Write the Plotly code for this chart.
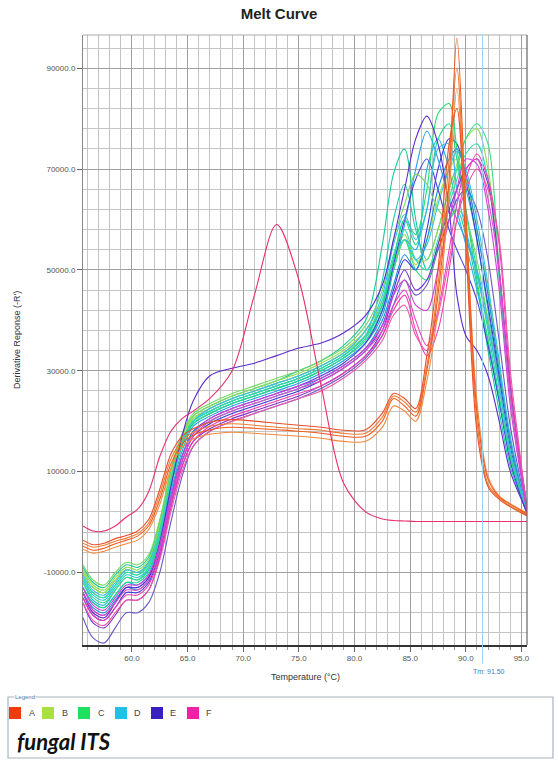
import plotly.graph_objects as go

# Temperatures (°C) at which curve values were read
T = [55.6, 56.5, 57.5, 58.5, 59.5, 60.5, 61.5, 62.5, 63.5, 64.5, 65.5, 67, 69, 71, 73, 75, 77, 79, 81,
     82.5, 83.5, 84.5, 85.5, 86.5, 87.5, 88.5, 89.2, 90, 91, 92, 93, 94, 95.5]

# Derivative response values in thousands
A1 = [-4.8,-5.6,-5.2,-4.3,-3.6,-2.8,-0.8,4.5,11.5,15.5,17.2, 18.3,18.8,18.6,18.3,18.0,17.6,17.0,17.0, 20.0,24.5,23.0,21.0,30.0,45.0,68.0,96.0,62.0,22.0,8.5,5.0,3.5,1.6]
A2 = [-4.2,-5.0,-4.6,-3.8,-3.2,-2.3,-0.2,5.5,12.5,16.2,17.8, 19.0,19.5,19.2,18.8,18.5,18.2,17.6,17.6, 20.8,25.0,23.8,21.8,31.0,47.0,72.0,90.0,58.0,20.0,7.5,4.8,3.2,1.4]
A3 = [-5.4,-6.2,-5.8,-5.0,-4.3,-3.6,-1.5,3.5,10.5,14.8,16.5, 17.4,17.8,17.6,17.3,17.0,16.6,16.0,16.0, 18.8,23.0,22.0,20.0,28.0,42.0,65.0,86.0,60.0,24.0,9.0,5.2,3.6,1.8]
A4 = [-3.6,-4.5,-4.2,-3.3,-2.7,-1.8,0.5,6.5,13.5,17.0,18.5, 19.8,20.3,20.0,19.6,19.2,18.8,18.2,18.3, 21.6,25.5,24.5,22.5,33.0,50.0,75.0,82.0,55.0,18.0,7.0,4.5,3.0,1.2]
P1 = [-0.8,-1.8,-1.8,-0.8,1.0,2.5,6.0,13.0,18.0,20.5,22.0, 24.5,30.0,45.0,59.0,48.0,27.0,7.8,2.0, 0.6,0.3,0.2,0.1,0.1,0.1,0.1,0.1,0.1,0.1,0.1,0.1,0.1,0.1]

B1 = [-9.5,-12.5,-13.5,-11,-9,-9.5,-7.5,-0.5,9.5,17,21, 23,25,26.5,28,29.5,31.5,34,38, 44,52,57,52,52,58,66,71,76,78,70,50,26,3]
B2 = [-10,-13,-14,-11.5,-9.5,-10,-8,-1,9,16.5,20.5, 22.5,24.5,26,27.5,29,31,33.5,37, 43,51,56,51,56,64,70,72,68,58,46,31,16,2]
B3 = [-8.5,-11.5,-12.5,-10,-8,-8.5,-6.5,0.5,10.5,17.5,21.5, 23.5,25.5,27,28.5,30,32,34.5,39, 46,56,63,69,67,62,60,62,60,52,40,27,14,2]

C1 = [-9,-12,-13,-10.5,-8.5,-9,-7,0,10,17,21, 23,25,26.5,28,30,32,35,40, 55,69,74,60,50,54,60,62,57,47,34,22,11,2]
C2 = [-10,-13,-14,-11.5,-9.5,-10,-8,-1,9,16,20, 22,24,25.5,27,28.5,30.5,33,37, 48,60,67,58,52,58,66,70,66,56,42,28,14,2.5]
C3 = [-11,-14,-15,-12.5,-10,-10.5,-8,-1,9,16,20.5, 22.5,24.5,26,27.5,29,31,33.5,37, 43,52,60,57,66,81,83,74,62,48,36,24,13,2]
C4 = [-12,-15,-16,-13.5,-11,-11.5,-9,-2,8,15.5,19.5, 21.5,23.5,25,26.5,28,30,32.5,36, 42,50,56,50,48,55,64,70,76,79,75,50,26,3]
C5 = [-13,-16,-17,-14.5,-12,-12,-10,-3,7,15,19.5, 21.5,23.5,25,26.5,28,30,32.5,36.5, 43,52,60,55,62,76,79,72,62,50,38,25,13,2]
C6 = [-11,-14,-15,-12.5,-10,-10.5,-8.5,-1.5,8.5,16,20, 22,24,25.5,27,28.5,30.5,33,37, 44,53,58,52,50,56,63,68,73,75,68,48,25,2.5]

D1 = [-12,-15.5,-16.5,-13.5,-11,-11.5,-9.5,-3,7,15,19.5, 21.5,23.5,25,26.5,28,30,32.5,36, 42,50,56,54,70,76,70,62,55,46,36,24,13,1.5]
D2 = [-13,-16,-17,-14.5,-12,-12.5,-10.5,-4,6,14,19, 21,23,24.5,26,27.5,29.5,32,35.5, 41,50,59,70,77.5,72,64,60,56,50,40,27,14,2]
D3 = [-11.5,-14.5,-15.5,-13,-10.5,-11,-9,-2.5,7.5,15.5,20, 22,24,25.5,27,28.5,30.5,33,37, 43,52,56,52,55,63,70,73.5,70,60,47,32,17,2]
D4 = [-14,-17,-18,-15.5,-13,-13.5,-11.5,-5,5,13,18, 20,22,23.5,25,26.5,28.5,31,34.5, 40,47,53,50,56,66,72,74,69,58,45,30,16,1.5]
D5 = [-10.5,-13.5,-14.5,-12,-9.5,-10,-8,-1.5,8.5,16,20, 22.5,24.5,26,27.5,29,31,33.5,38, 45,55,61,56,62,74,75,66,58,49,39,27,14,2]

E1 = [-14,-18,-19,-16,-13,-13,-11,-4,7,17,24, 29,30.5,31.5,33,34.5,35.5,37.5,41, 47,56,66,76,80.5,75,62,45,37,34,29,20,10,2]
E2 = [-15,-18.5,-19.5,-17,-14,-14,-12,-6,4,12,17, 19.5,21.5,23,24.5,26,28,30.5,34, 39,46,52,50,58,70,76,75,68,56,43,29,15,1.5]
E3 = [-16,-20,-21,-18.5,-15.5,-15.5,-13.5,-7,3,11,16, 18.5,20.5,22,23.5,25,27,29.5,33, 38,45,50,46,48,55,62,66,70,72,67,50,27,3]
E4 = [-19,-23,-24,-21,-18,-18,-16,-10,0,9,15, 18,20,21.5,23,24.5,26.5,29,32.5, 37,43,48,45,47,54,60,64,66,62,52,36,19,2]
E5 = [-14,-17.5,-18.5,-16,-13,-13,-11,-5,5,13,18, 20.5,22.5,24,25.5,27,29,31.5,35.5, 42,51,60,68,72,66,58,54,50,44,35,24,12,1.5]

F1 = [-15,-18.5,-19.5,-17,-14.5,-14.5,-12.5,-6.5,3,11,16, 19,21,22.5,24,25.5,27,29.5,33, 37,42,45,38,33,38,50,60,68,73,68,55,28,2]
F2 = [-14,-17.5,-18.5,-16,-13.5,-13.5,-11.5,-5.5,4,12,17, 20,22,23.5,25,26.5,28,30.5,34, 38,43,46,40,35,42,54,63,70,72,64,50,25,2]
F3 = [-16,-19.5,-20.5,-18,-15.5,-15.5,-13.5,-7.5,2,10,15, 18,20,21.5,23,24.5,26,28.5,32, 36,41,43,37,34,41,52,60,66,70,66,56,30,2.5]
F4 = [-13,-16.5,-17.5,-15,-12.5,-12.5,-10.5,-4.5,5,13,17.5, 20.5,22.5,24,25.5,27,28.5,31,34.5, 39,45,48,43,42,50,60,66,72,71,62,46,23,2]

TM = 91.5
X_TICKS = [60, 65, 70, 75, 80, 85, 90, 95]
Y_TICKS = [-10000, 10000, 30000, 50000, 70000, 90000]
LEGEND_KEYS = ["A", "B", "C", "D", "E", "F"]

# drawing order: mass first, then A group and the single early-melting curve on top
curves = [
    (C1, "#19c99a"), (C2, "#22c4b4"), (B1, "#8fdc50"), (D1, "#1fb5e8"), (E2, "#3b35d8"),
    (C3, "#26de6e"), (D2, "#22a0e6"), (B2, "#a6e04a"), (E4, "#6a58c8"), (D3, "#2cc4e0"),
    (C4, "#38e07e"), (E5, "#4a40e0"), (D4, "#1b8ed8"), (C5, "#1fd690"), (B3, "#74d862"),
    (D5, "#3ab8f0"), (C6, "#2ddca8"), (E3, "#7a30d0"), (E1, "#5a2bd0"),
    (F1, "#f03cb0"), (F2, "#e845c8"), (F3, "#f055a8"), (F4, "#d040d8"),
    (A3, "#f38a3c"), (A2, "#f07a30"), (A4, "#e8502a"), (A1, "#f05a1e"), (P1, "#e8306e"),
]
legend_colors = ["#f03a10", "#a8e040", "#20e060", "#20c0e8", "#3820c0", "#f020a8"]

fig = go.Figure()
for vals, col in curves:
    fig.add_trace(go.Scatter(
        x=T, y=[v * 1000 for v in vals], mode="lines",
        line=dict(color=col, width=1.1, shape="spline", smoothing=0.9),
        showlegend=False, hoverinfo="skip"))

# plot geometry (pixels) for paper-coordinate conversions
L, R, TOP, BOT = 83, 527, 35, 645
W, H = R - L, BOT - TOP
def px(x): return (x - L) / W
def py(y): return (BOT - y) / H

fig.update_layout(
    width=558, height=763,
    margin=dict(l=L, r=558 - R, t=TOP, b=763 - BOT),
    paper_bgcolor="white", plot_bgcolor="white",
    font=dict(family="Liberation Sans, Arial, sans-serif", size=8, color="#444"),
    title=dict(text="<b>Melt Curve</b>", x=0.5, xref="container", y=1 - 14 / 763,
               yref="container", xanchor="center", yanchor="middle",
               font=dict(size=15, color="#222", family="Liberation Sans, Arial, sans-serif")),
    xaxis=dict(range=[55.6, 95.5], tickvals=X_TICKS, ticktext=[f"{v:.1f}" for v in X_TICKS],
               showgrid=True, gridcolor="#a0a0a0", gridwidth=1,
               minor=dict(dtick=1, tick0=55, showgrid=True, gridcolor="#c4c4c4", gridwidth=1,
                          ticks="outside", ticklen=3, tickcolor="#999"),
               ticks="outside", ticklen=5, tickcolor="#666",
               showline=True, linecolor="#333", linewidth=1.5, mirror=False,
               zeroline=False, tickfont=dict(size=8, color="#555")),
    yaxis=dict(range=[-24400, 96600], tickvals=Y_TICKS, ticktext=[f"{v:.1f}" for v in Y_TICKS],
               showgrid=True, gridcolor="#a0a0a0", gridwidth=1,
               minor=dict(dtick=4000, tick0=-10000, showgrid=True, gridcolor="#c4c4c4", gridwidth=1),
               ticks="outside", ticklen=5, tickcolor="#666",
               showline=True, linecolor="#888", linewidth=1, mirror=False,
               zeroline=False, tickfont=dict(size=8, color="#555")),
)

shapes = [
    # frame top/right
    dict(type="line", xref="paper", yref="paper", x0=0, x1=1, y0=1, y1=1, line=dict(color="#aaa", width=1)),
    dict(type="line", xref="paper", yref="paper", x0=1, x1=1, y0=0, y1=1, line=dict(color="#666", width=1.2)),
    # Tm marker line
    dict(type="line", xref="x", yref="paper", x0=TM, x1=TM, y0=-0.03, y1=1, line=dict(color="#9fd0f0", width=1)),
    # legend box
    dict(type="rect", xref="paper", yref="paper", x0=px(8), x1=px(553), y0=py(697), y1=py(758),
         line=dict(color="#a9b4c0", width=1.2), fillcolor="rgba(0,0,0,0)"),
]
sq_x = [9, 42, 78, 115, 151, 187]
lt_x = [27, 60, 96, 132, 168, 204]
annotations = [
    dict(text="Derivative Reponse (-R')", xref="paper", yref="paper", x=px(10), y=0.5,
         textangle=-90, showarrow=False, font=dict(size=9, color="#333")),
    dict(text="Temperature (°C)", xref="paper", yref="paper", x=px(305), y=py(684),
         showarrow=False, font=dict(size=9, color="#333")),
    dict(text=f"Tm: {TM:.2f}", xref="x", yref="paper", x=TM + 0.6, y=py(672),
         yanchor="middle", showarrow=False, font=dict(size=7, color="#3a80c0")),
    dict(text="Legend", xref="paper", yref="paper", x=px(14), y=py(697), xanchor="left",
         yanchor="middle", showarrow=False, bgcolor="white", borderpad=0,
         font=dict(size=6, color="#4a7ab0")),
    dict(text="<b><i>fungal ITS</i></b>", xref="paper", yref="paper", x=px(15), y=py(741),
         xanchor="left", yanchor="middle", showarrow=False,
         font=dict(size=22, color="#111", family="Lato, Open Sans, sans-serif")),
]
for key, col, sx, lx in zip(LEGEND_KEYS, legend_colors, sq_x, lt_x):
    shapes.append(dict(type="rect", xref="paper", yref="paper", x0=px(sx), x1=px(sx + 12),
                       y0=py(719), y1=py(707), line=dict(width=0), fillcolor=col))
    annotations.append(dict(text=key, xref="paper", yref="paper", x=px(lx), y=py(713),
                            xanchor="left", yanchor="middle", showarrow=False,
                            font=dict(size=9, color="#444")))

fig.update_layout(shapes=shapes, annotations=annotations)
fig.write_html("out.html")
